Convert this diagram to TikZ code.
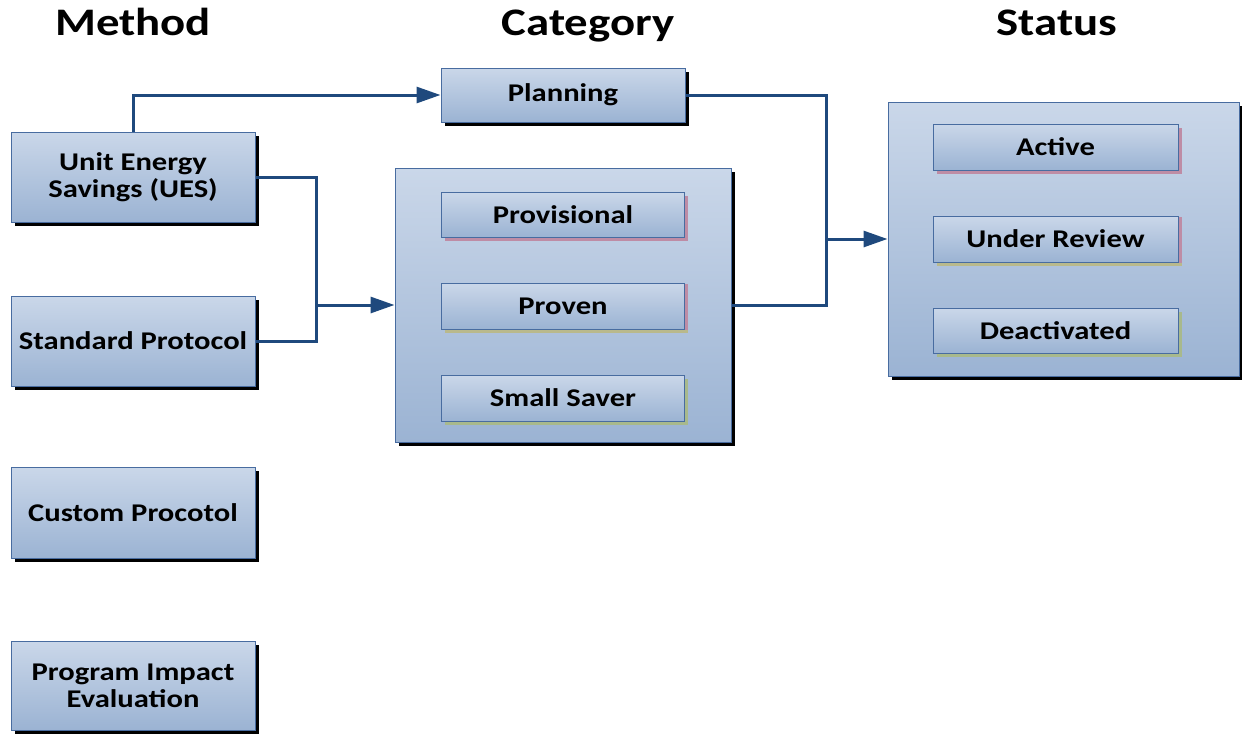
\documentclass[tikz,border=0pt]{standalone}
\usepackage{fontspec}
\setmainfont{Carlito}[FakeStretch=1.2]
\usetikzlibrary{arrows.meta,shadows}
\definecolor{lineblue}{RGB}{31,73,125}
\definecolor{boxtop}{RGB}{202,215,233}
\definecolor{boxbot}{RGB}{155,179,211}
\definecolor{boxdraw}{RGB}{72,108,160}
\definecolor{shpinkc}{RGB}{190,140,165}
\definecolor{shgreenc}{RGB}{168,185,140}
\definecolor{sholivec}{RGB}{185,185,140}
\begin{document}
\begin{tikzpicture}[x=1pt,y=-1pt,
  base/.style={rectangle, draw=boxdraw, line width=1pt, top color=boxtop, bottom color=boxbot,
    inner sep=0pt, align=center, font=\bfseries\fontsize{25.5}{27}\selectfont},
  outerbox/.style={base, drop shadow={shadow xshift=4pt,shadow yshift=-4pt,fill=black,opacity=1}},
  pinkbox/.style={base, drop shadow={shadow xshift=3.5pt,shadow yshift=-3.5pt,fill=shpinkc,opacity=1}},
  mixbox/.style={base, drop shadow={shadow xshift=3.5pt,shadow yshift=-3.5pt,fill=sholivec,opacity=1},
    drop shadow={shadow xshift=3.5pt,shadow yshift=-1pt,fill=shpinkc,opacity=1}},
  greenbox/.style={base, drop shadow={shadow xshift=3.5pt,shadow yshift=-3.5pt,fill=shgreenc,opacity=1}},
  head/.style={anchor=base, font=\bfseries\fontsize{39}{41}\selectfont},
  conn/.style={draw=lineblue, line width=3pt},
  arr/.style={conn, -{Triangle[length=24pt,width=16pt]}}
]
\useasboundingbox (0,0) rectangle (1242,734);

% headings
\node[head] (hm) at (133,35) {Method};
\node[head] (hc) at (588,35) {Category};
\node[head] (hs) at (1057,35) {Status};

% method column
\node[outerbox, minimum width=244pt, minimum height=90pt] (ues) at (133,177) {Unit Energy\\Savings (UES)};
\node[outerbox, minimum width=244pt, minimum height=90pt] (sp) at (133,341) {Standard Protocol};
\node[outerbox, minimum width=244pt, minimum height=91pt] (cp) at (133,512.5) {Custom Procotol};
\node[outerbox, minimum width=244pt, minimum height=89pt] (pie) at (133,685.5) {Program Impact\\Evaluation};

% category column
\node[outerbox, minimum width=244pt, minimum height=54pt] (plan) at (563,95) {Planning};
\node[outerbox, minimum width=336pt, minimum height=274pt] (cat) at (563,305) {};
\node[pinkbox, minimum width=243pt, minimum height=45pt] (prov) at (563,214.5) {Provisional};
\node[mixbox, minimum width=243pt, minimum height=46pt] (prvn) at (563,306) {Proven};
\node[greenbox, minimum width=243pt, minimum height=46pt] (ss) at (563,398) {Small Saver};

% status column
\node[outerbox, minimum width=351pt, minimum height=274pt] (stat) at (1063.5,239) {};
\node[pinkbox, minimum width=245pt, minimum height=46pt] (act) at (1055.5,147) {Active};
\node[mixbox, minimum width=245pt, minimum height=46pt] (ur) at (1055.5,239) {Under Review};
\node[greenbox, minimum width=245pt, minimum height=45pt] (deac) at (1055.5,330.5) {Deactivated};

% connectors
\coordinate (j1) at (316,305);
\coordinate (j2) at (826,239);
\draw[arr] (ues.north) |- (plan.west);
\draw[conn] (ues.east) -| (j1);
\draw[conn] (sp.east) -| (j1);
\draw[arr] (j1) -- (cat.west);
\draw[conn] (plan.east) -| (j2);
\draw[conn] (cat.east) -| (j2);
\draw[arr] (j2) -- (stat.west);
\end{tikzpicture}
\end{document}
